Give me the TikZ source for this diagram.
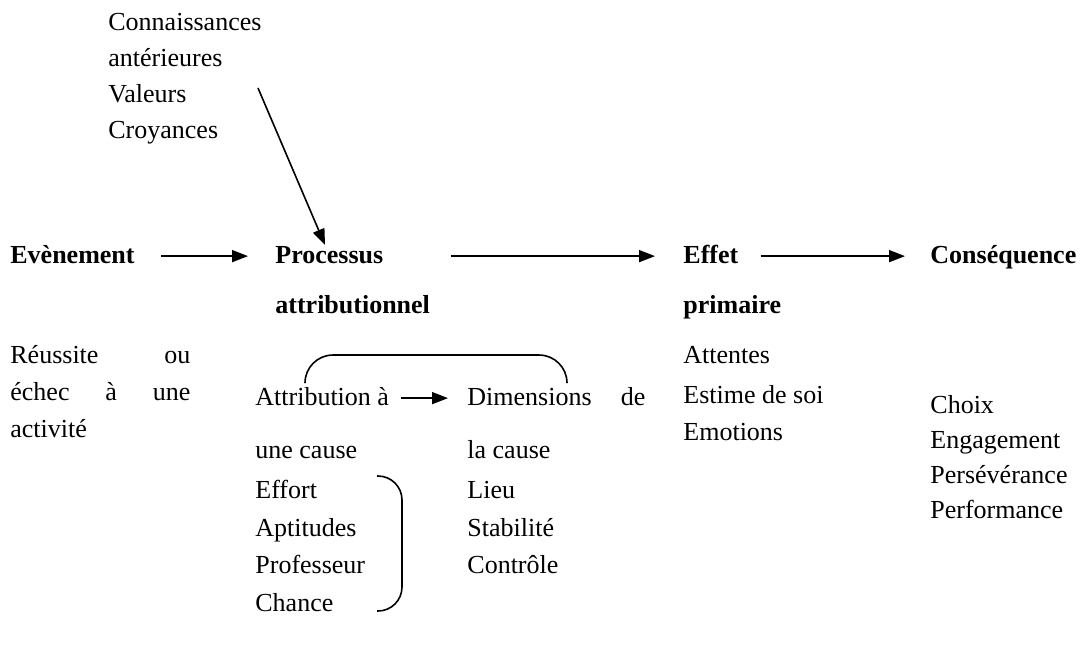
\documentclass[tikz,border=0pt]{standalone}
\usepackage{fontspec}
\setmainfont{Liberation Serif}
\usetikzlibrary{arrows.meta}

\tikzset{
  txt/.style={anchor=base west, inner sep=0pt, text height=1.6ex, text depth=0.1ex, font=\fontsize{13pt}{15pt}\selectfont},
  titre/.style={txt, font=\fontsize{13pt}{15pt}\selectfont\bfseries},
  fleche/.style={-{Triangle[length=8pt,width=6pt]}, line width=0.8pt},
}

\begin{document}
\begin{tikzpicture}[x=0.5pt,y=-0.5pt]
\useasboundingbox (0,0) rectangle (1080,650);
% facteurs
\node[txt] (conn) at (108,30) {Connaissances};
\node[txt] (ant) at (108,66) {antérieures};
\node[txt] (val) at (108,102) {Valeurs};
\node[txt] (croy) at (108,138) {Croyances};
% ligne principale
\node[titre] (even) at (10,263) {Evènement};
\node[titre] (proc) at (275,263) {Processus};
\node[titre] (attr) at (275,313) {attributionnel};
\node[titre] (effet) at (683,263) {Effet};
\node[titre] (prim) at (683,313) {primaire};
\node[titre] (cons) at (930,263) {Conséquence};
\draw[fleche, shorten <=13pt, shorten >=13.5pt] (even.east) -- (proc.west);
\draw[fleche, shorten <=33.5pt, shorten >=14pt] (proc.east) -- (effet.west);
\draw[fleche, shorten <=11pt, shorten >=12.5pt] (effet.east) -- (cons.west);
\coordinate (depart) at (258,88);
\coordinate (arrivee) at (325,245);
\draw[fleche] (depart) -- (arrivee);
% evenement
\node[txt] (reus) at (10,363) {\makebox[90pt][s]{Réussite ou}};
\node[txt] (echec) at (10,400) {\makebox[90pt][s]{échec à une}};
\node[txt] (activ) at (10,437) {activité};
% processus
\draw[line width=0.8pt, rounded corners=14pt] (305,382) -- (305,355) -- (567,355) -- (567,382);
\node[txt] (attrib) at (255,405) {Attribution à};
\node[txt] (cause) at (255,458) {une cause};
\node[txt] (effort) at (255,498) {Effort};
\node[txt] (apt) at (255,536) {Aptitudes};
\node[txt] (prof) at (255,573) {Professeur};
\node[txt] (chance) at (255,611) {Chance};
\node[txt] (dim) at (467,405) {\makebox[89pt][s]{Dimensions de}};
\node[txt] (lacause) at (467,458) {la cause};
\node[txt] (lieu) at (467,498) {Lieu};
\node[txt] (stab) at (467,536) {Stabilité};
\node[txt] (contr) at (467,573) {Contrôle};
\draw[fleche, shorten <=6pt, shorten >=9.5pt] (attrib.east) -- (dim.west);
\draw[line width=0.8pt, rounded corners=12pt] (377,476) -- (402,476) -- (402,611) -- (377,611);
% effet primaire
\node[txt] (att) at (683,363) {Attentes};
\node[txt] (estime) at (683,403) {Estime de soi};
\node[txt] (emo) at (683,440) {Emotions};
% consequence
\node[txt] (choix) at (930,413) {Choix};
\node[txt] (eng) at (930,448) {Engagement};
\node[txt] (pers) at (930,483) {Persévérance};
\node[txt] (perf) at (930,518) {Performance};
\end{tikzpicture}
\end{document}
